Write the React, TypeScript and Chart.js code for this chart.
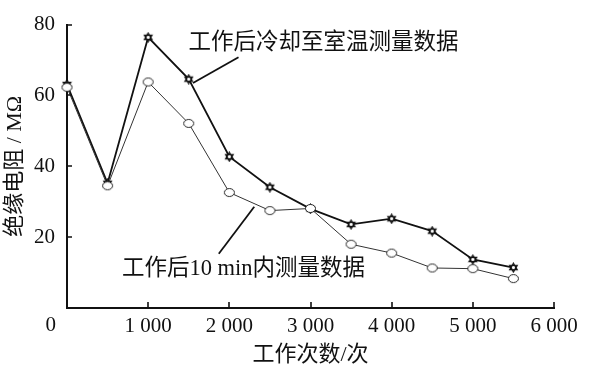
import { useEffect, useRef } from 'react';
import { Chart, registerables } from 'chart.js';

Chart.register(...registerables);

// ---- data ----
const cycles = [0, 500, 1000, 1500, 2000, 2500, 3000, 3500, 4000, 4500, 5000, 5500];
const coolDownSeries = [63.1, 35.2, 76.4, 64.6, 42.7, 34.1, 28.0, 23.6, 25.2, 21.7, 13.7, 11.4];
const within10Series = [62.3, 34.5, 63.8, 52.1, 32.6, 27.5, 28.1, 18.0, 15.5, 11.3, 11.1, 8.3];
const xTickValues = [0, 1000, 2000, 3000, 4000, 5000, 6000];
const xTickLabels = ['0', '1 000', '2 000', '3 000', '4 000', '5 000', '6 000'];
const yTickValues = [0, 20, 40, 60, 80];
const yTickLabels = ['0', '20', '40', '60', '80'];
const coolDownName = '工作后冷却至室温测量数据';
const within10Name = '工作后10 min内测量数据';
const xTitle = '工作次数/次';
const yTitle = '绝缘电阻 / MΩ';

// callout anchors in data units: text anchor, leader line start, leader line end
const callouts = [
  { text: coolDownName, at: [1498, 74.8], from: [2113, 70.8], to: [1552, 63.5] },
  { text: within10Name, at: [677, 11.1], from: [2307, 28.6], to: [1870, 15.3] },
];

const FONT = "'Liberation Serif', 'Noto Sans CJK SC', serif";

function makeStar(): HTMLCanvasElement {
  const c = document.createElement('canvas');
  c.width = 11;
  c.height = 11;
  const g = c.getContext('2d')!;
  const cx = 5.5, cy = 5.5, r = 4.3;
  g.lineWidth = 1.3;
  g.strokeStyle = '#111';
  g.fillStyle = '#fff';
  for (const off of [-Math.PI / 2, Math.PI / 2]) {
    g.beginPath();
    for (let i = 0; i < 3; i++) {
      const a = off + (i * 2 * Math.PI) / 3;
      const px = cx + r * Math.cos(a);
      const py = cy + r * Math.sin(a);
      if (i === 0) g.moveTo(px, py); else g.lineTo(px, py);
    }
    g.closePath();
    g.fill();
  }
  for (const off of [-Math.PI / 2, Math.PI / 2]) {
    g.beginPath();
    for (let i = 0; i < 3; i++) {
      const a = off + (i * 2 * Math.PI) / 3;
      const px = cx + r * Math.cos(a);
      const py = cy + r * Math.sin(a);
      if (i === 0) g.moveTo(px, py); else g.lineTo(px, py);
    }
    g.closePath();
    g.stroke();
  }
  return c;
}

function makeCircle(): HTMLCanvasElement {
  const c = document.createElement('canvas');
  c.width = 13;
  c.height = 11;
  const g = c.getContext('2d')!;
  g.beginPath();
  g.ellipse(6.5, 5.5, 5, 4, 0, 0, Math.PI * 2);
  g.fillStyle = '#fff';
  g.fill();
  g.lineWidth = 1;
  g.strokeStyle = '#222';
  g.stroke();
  return c;
}

export default function App() {
  const ref = useRef<HTMLCanvasElement | null>(null);

  useEffect(() => {
    document.body.style.margin = '0';
    const canvas = ref.current;
    if (!canvas) return;
    const star = makeStar();
    const circ = makeCircle();

    const overlay = {
      id: 'overlay',
      afterDraw(chart: any) {
        const { ctx } = chart;
        const xs = chart.scales.x;
        const ys = chart.scales.y;
        ctx.save();
        // inward tick marks
        ctx.strokeStyle = '#111';
        ctx.lineWidth = 1.6;
        ctx.beginPath();
        xTickValues.forEach((v) => {
          if (v === 0) return;
          const px = Math.round(xs.getPixelForValue(v));
          ctx.moveTo(px, ys.bottom);
          ctx.lineTo(px, ys.bottom - 6);
        });
        yTickValues.forEach((v) => {
          if (v === 0) return;
          const py = Math.round(ys.getPixelForValue(v));
          ctx.moveTo(xs.left, py);
          ctx.lineTo(xs.left + 5, py);
        });
        ctx.stroke();
        // origin label
        ctx.fillStyle = '#111';
        ctx.font = `21px ${FONT}`;
        ctx.textAlign = 'right';
        ctx.textBaseline = 'middle';
        ctx.fillText(yTickLabels[0], xs.left - 11, ys.bottom + 17);
        // callouts
        ctx.lineWidth = 1.8;
        callouts.forEach((c) => {
          ctx.beginPath();
          ctx.moveTo(xs.getPixelForValue(c.from[0]), ys.getPixelForValue(c.from[1]));
          ctx.lineTo(xs.getPixelForValue(c.to[0]), ys.getPixelForValue(c.to[1]));
          ctx.stroke();
          ctx.font = `22.5px ${FONT}`;
          ctx.textAlign = 'left';
          ctx.textBaseline = 'middle';
          ctx.fillText(c.text, xs.getPixelForValue(c.at[0]), ys.getPixelForValue(c.at[1]));
        });
        ctx.restore();
      },
    };

    const chart = new Chart(canvas, {
      type: 'line',
      data: {
        datasets: [
          {
            label: within10Name,
            data: cycles.map((c, i) => ({ x: c, y: within10Series[i] })),
            borderColor: '#333',
            borderWidth: 1,
            pointStyle: circ as any,
            pointRadius: 5,
            clip: false as any,
          },
          {
            label: coolDownName,
            data: cycles.map((c, i) => ({ x: c, y: coolDownSeries[i] })),
            borderColor: '#111',
            borderWidth: 1.8,
            pointStyle: star as any,
            pointRadius: 5,
            clip: false as any,
          },
        ],
      },
      options: {
        animation: false,
        responsive: false,
        layout: { padding: { top: 23, right: 35, left: 0, bottom: 0 } },
        plugins: { legend: { display: false }, tooltip: { enabled: false } },
        scales: {
          x: {
            type: 'linear',
            min: 0,
            max: 6000,
            afterFit: (s: any) => { s.height = 64; },
            afterBuildTicks: (s: any) => { s.ticks = xTickValues.map((v) => ({ value: v })); },
            grid: { display: false, drawTicks: false },
            border: { display: true, color: '#111', width: 2 },
            ticks: {
              padding: 6,
              color: '#111',
              font: { family: FONT, size: 21 },
              maxRotation: 0,
              autoSkip: false,
              callback: (v: any) => {
                const i = xTickValues.indexOf(Number(v));
                return i <= 0 ? '' : xTickLabels[i];
              },
            },
            title: {
              display: true,
              text: xTitle,
              color: '#111',
              font: { family: FONT, size: 22 },
              padding: { top: 4, bottom: 4 },
            },
          },
          y: {
            min: 0,
            max: 80,
            afterFit: (s: any) => { s.width = 67; },
            afterBuildTicks: (s: any) => { s.ticks = yTickValues.map((v) => ({ value: v })); },
            grid: { display: false, drawTicks: false },
            border: { display: true, color: '#111', width: 2 },
            ticks: {
              padding: 12,
              color: '#111',
              font: { family: FONT, size: 21 },
              autoSkip: false,
              callback: (v: any) => {
                const i = yTickValues.indexOf(Number(v));
                return i <= 0 ? '' : yTickLabels[i];
              },
            },
            title: {
              display: true,
              text: yTitle,
              color: '#111',
              font: { family: FONT, size: 22 },
              padding: { top: 2, bottom: 0 },
            },
          },
        },
      },
      plugins: [overlay],
    });
    return () => chart.destroy();
  }, []);

  return (
    <div style={{ position: 'absolute', left: 0, top: 0, width: 589, height: 372, background: '#fff' }}>
      <canvas ref={ref} width={589} height={372} />
    </div>
  );
}
